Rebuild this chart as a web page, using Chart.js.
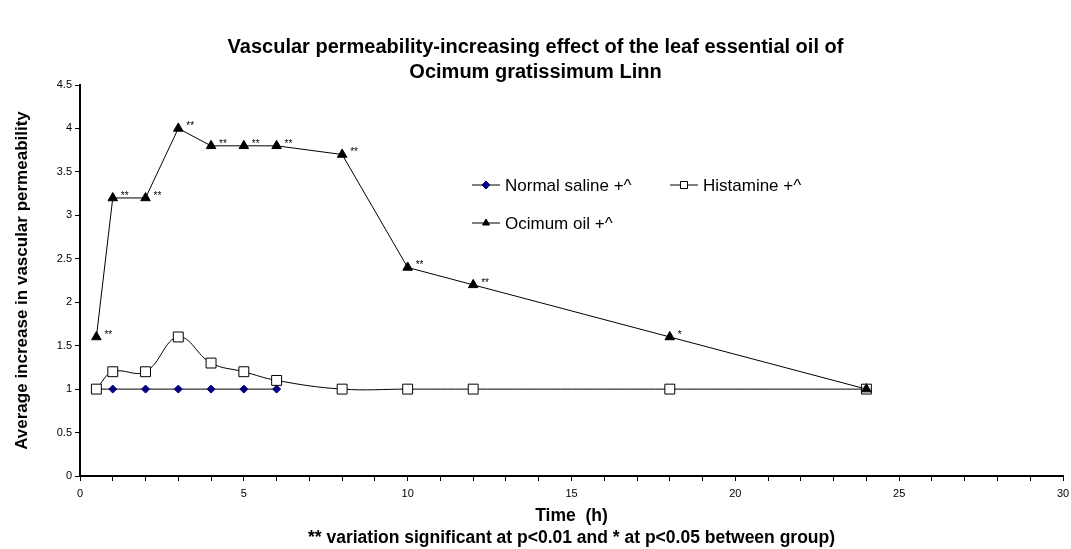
<!DOCTYPE html>
<html>
<head>
<meta charset="utf-8">
<script src="https://cdn.jsdelivr.net/npm/chart.js@4"></script>
<style>
  html, body { margin: 0; padding: 0; background: #fff; }
  #wrap { width: 1071px; height: 549px; }
</style>
</head>
<body>
<div id="wrap"><canvas id="chart" width="1071" height="549"></canvas></div>
<script>
// data
const salineHours = [0.5, 1, 2, 3, 4, 5, 6]
const salineValues = [1, 1, 1, 1, 1, 1, 1]
const histamineHours = [0.5, 1, 2, 3, 4, 5, 6, 8, 10, 12, 18, 24]
const histamineValues = [1, 1.2, 1.2, 1.6, 1.3, 1.2, 1.1, 1, 1, 1, 1, 1]
const ocimumHours = [0.5, 1, 2, 3, 4, 5, 6, 8, 10, 12, 18, 24]
const ocimumValues = [1.6, 3.2, 3.2, 4.0, 3.8, 3.8, 3.8, 3.7, 2.4, 2.2, 1.6, 1.0]
const ocimumSignif = ["**", "**", "**", "**", "**", "**", "**", "**", "**", "**", "*", ""]

const FONT = "Liberation Sans, Arial, sans-serif"

const toPoints = (xs, ys) => xs.map((x, i) => ({ x: x, y: ys[i] }))

// stars next to the ocimum points
const starPlugin = {
    id: "stars",
    afterDatasetsDraw(chart) {
        const ctx = chart.ctx
        const meta = chart.getDatasetMeta(2)
        ctx.save()
        ctx.font = "10px " + FONT
        ctx.fillStyle = "#000"
        ctx.textBaseline = "middle"
        meta.data.forEach((pt, i) => {
            if (ocimumSignif[i]) ctx.fillText(ocimumSignif[i], pt.x + 8, pt.y - 2)
        })
        ctx.restore()
    }
}

// legend floating inside the plot like the original
const legendPlugin = {
    id: "floatLegend",
    afterDraw(chart) {
        const ctx = chart.ctx
        const items = [
            { ds: 0, x: 472, y: 185 },
            { ds: 1, x: 670, y: 185 },
            { ds: 2, x: 472, y: 223 }
        ]
        ctx.save()
        items.forEach(it => {
            const ds = chart.data.datasets[it.ds]
            ctx.strokeStyle = "#000"
            ctx.lineWidth = 1
            ctx.beginPath()
            ctx.moveTo(it.x, it.y)
            ctx.lineTo(it.x + 28, it.y)
            ctx.stroke()
            ctx.fillStyle = ds.pointBackgroundColor
            ctx.strokeStyle = ds.pointBorderColor
            Chart.helpers.drawPoint(ctx, { pointStyle: ds.pointStyle, radius: ds.legendRadius, borderWidth: 1 }, it.x + 14, it.y)
            ctx.fillStyle = "#000"
            ctx.font = "17px " + FONT
            ctx.textBaseline = "middle"
            ctx.fillText(ds.label, it.x + 33, it.y + 1)
        })
        ctx.restore()
    }
}

new Chart(document.getElementById("chart"), {
    type: "line",
    data: {
        datasets: [{
            label: "Normal saline +^",
            data: toPoints(salineHours, salineValues),
            borderColor: "#000",
            borderWidth: 1,
            pointStyle: "rectRot",
            pointRadius: 4,
            legendRadius: 4,
            pointBackgroundColor: "#000080",
            pointBorderColor: "#000080",
            order: 2
        }, {
            label: "Histamine +^",
            data: toPoints(histamineHours, histamineValues),
            borderColor: "#000",
            borderWidth: 1,
            tension: 0.4,
            pointStyle: "rect",
            pointRadius: 7,
            legendRadius: 5,
            pointBackgroundColor: "#fff",
            pointBorderColor: "#000",
            pointBorderWidth: 1,
            order: 1
        }, {
            label: "Ocimum oil +^",
            data: toPoints(ocimumHours, ocimumValues),
            borderColor: "#000",
            borderWidth: 1,
            pointStyle: "triangle",
            pointRadius: 5.5,
            legendRadius: 4,
            pointBackgroundColor: "#000",
            pointBorderColor: "#000",
            order: 0
        }]
    },
    options: {
        responsive: false,
        animation: false,
        layout: { padding: { top: 0, right: 0, left: 0, bottom: 0 } },
        plugins: {
            legend: { display: false },
            tooltip: { enabled: false },
            title: {
                display: true,
                text: ["Vascular permeability-increasing effect of the leaf essential oil of", "Ocimum gratissimum Linn"],
                color: "#000",
                font: { family: FONT, size: 20, weight: "bold", lineHeight: 1.25 },
                padding: { top: 35, bottom: 0 }
            }
        },
        scales: {
            x: {
                type: "linear",
                min: 0,
                max: 30,
                border: { color: "#000", width: 2 },
                grid: { display: true, drawOnChartArea: false, drawTicks: true, tickLength: 5, color: "#000" },
                ticks: {
                    stepSize: 1,
                    autoSkip: false,
                    maxRotation: 0,
                    color: "#000",
                    font: { family: FONT, size: 11 },
                    padding: 6,
                    callback: v => (v % 5 === 0 ? String(v) : "")
                },
                title: {
                    display: true,
                    text: ["Time  (h)", "** variation significant at p<0.01 and * at p<0.05 between group)"],
                    color: "#000",
                    font: { family: FONT, size: 17.5, weight: "bold", lineHeight: 1.25 },
                    padding: { top: 0, bottom: 0 }
                },
                afterFit: s => { s.height = 73; s.paddingRight = 4 }
            },
            y: {
                min: 0,
                max: 4.5,
                border: { color: "#000", width: 2 },
                grid: { display: true, drawOnChartArea: false, drawTicks: true, tickLength: 5, color: "#000" },
                ticks: {
                    stepSize: 0.5,
                    color: "#000",
                    font: { family: FONT, size: 11 },
                    padding: 3,
                    callback: v => String(v)
                },
                title: {
                    display: true,
                    text: "Average increase in vascular permeability",
                    color: "#000",
                    font: { family: FONT, size: 17, weight: "bold", lineHeight: 1.2 },
                    padding: { top: 12, bottom: 0 }
                },
                afterFit: s => { s.width = 80 }
            }
        }
    },
    plugins: [starPlugin, legendPlugin]
})
</script>
</body>
</html>
